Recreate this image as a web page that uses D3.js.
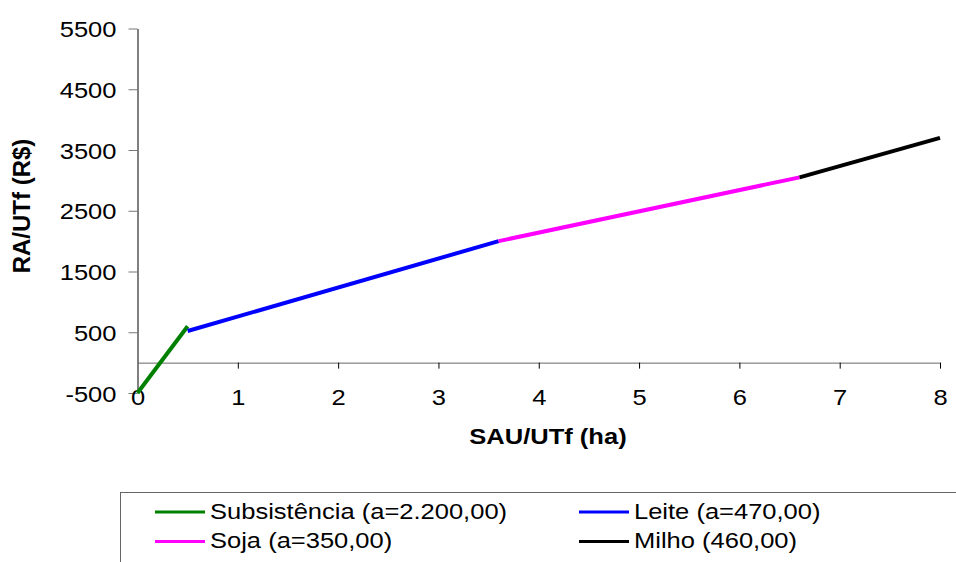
<!DOCTYPE html>
<html lang="pt">
    <head>
        <meta charset="utf-8">
        <script type="text/javascript" src="https://cdn.jsdelivr.net/npm/d3@7/dist/d3.min.js"></script>
        <style type="text/css">
        body{
          margin: 0;
          background: #fff;
          font-family: "Liberation Sans", Arial, sans-serif;
        }
        </style>
    </head>
    <body>
        <script type="text/javascript">
        // Segments: [SAU/UTf, RA/UTf]
        var subsistencia = [[0, -500], [0.5, 600]];
        var leite = [[0.5, 520], [3.6, 2000]];
        var soja = [[3.6, 2000], [6.6, 3050]];
        var milho = [[6.6, 3050], [8, 3700]];

        var seriesNames = ["Subsistência (a=2.200,00)", "Leite (a=470,00)", "Soja (a=350,00)", "Milho (460,00)"];
        var seriesColors = ["#008000", "#0000ff", "#ff00ff", "#000000"];
        var xTicks = [0, 1, 2, 3, 4, 5, 6, 7, 8];
        var yTicks = [-500, 500, 1500, 2500, 3500, 4500, 5500];

        var w = 956;
        var h = 562;
        var plotLeft = 137.5, plotRight = 940, plotTop = 28.5, plotBottom = 393;
        var stretch = 1.16; // the text in the picture is a bit wide

        var svg = d3.select("body")
          .append("svg")
          .attr("width", w)
          .attr("height", h)
          .style("font-family", "Liberation Sans, Arial, sans-serif");

        var xScale = d3.scaleLinear().domain([0, 8]).range([plotLeft, plotRight]);
        var yScale = d3.scaleLinear().domain([-500, 5500]).range([plotBottom, plotTop]);

        // y axis on the left edge
        var yAxis = svg.append("g")
          .attr("transform", "translate(" + plotLeft + ",0)")
          .call(d3.axisLeft(yScale).tickValues(yTicks).tickSize(9).tickSizeOuter(0)
            .tickFormat(function(d){ return String(d); }));
        yAxis.select(".domain").attr("stroke", "#000");
        yAxis.selectAll(".tick line").attr("stroke", "#777");
        yAxis.selectAll(".tick text")
          .attr("x", 0)
          .attr("dy", 0)
          .attr("transform", "translate(-21,8) scale(" + stretch + ",1)")
          .style("font-size", "22px")
          .style("font-family", "Liberation Sans, Arial, sans-serif")
          .attr("fill", "#000");

        // x axis drawn at y = 0
        var xAxis = svg.append("g")
          .attr("transform", "translate(0," + yScale(0) + ")")
          .call(d3.axisBottom(xScale).tickValues(xTicks).tickSize(6).tickSizeOuter(0)
            .tickFormat(function(d){ return String(d); }));
        xAxis.select(".domain").attr("stroke", "#666");
        xAxis.selectAll(".tick line").attr("stroke", "#000");
        xAxis.selectAll(".tick").filter(function(d){ return d === 0; }).select("line").remove();
        xAxis.selectAll(".tick text")
          .attr("y", 0)
          .attr("dy", 0)
          .attr("transform", "translate(0," + (405 - yScale(0)) + ") scale(" + stretch + ",1)")
          .style("font-size", "22px")
          .style("font-family", "Liberation Sans, Arial, sans-serif")
          .attr("fill", "#000");

        // axis titles
        svg.append("text")
          .attr("transform", "translate(548,444) scale(" + stretch + ",1)")
          .attr("text-anchor", "middle")
          .style("font-size", "22px")
          .style("font-weight", "bold")
          .text("SAU/UTf (ha)");

        svg.append("text")
          .attr("transform", "translate(29.5,206) rotate(-90)")
          .attr("text-anchor", "middle")
          .style("font-size", "24px")
          .style("font-weight", "bold")
          .text("RA/UTf (R$)");

        // lines
        var line = d3.line()
          .x(function(d){ return xScale(d[0]); })
          .y(function(d){ return yScale(d[1]); });

        var allSeries = [subsistencia, leite, soja, milho];
        svg.selectAll("path.serie")
          .data(allSeries)
          .enter()
          .append("path")
          .attr("class", "serie")
          .attr("d", line)
          .attr("fill", "none")
          .attr("stroke-width", 4)
          .attr("stroke", function(d, i){ return seriesColors[i]; });

        // legend box (runs off right and bottom edge)
        svg.append("rect")
          .attr("x", 120.5)
          .attr("y", 492.5)
          .attr("width", 900)
          .attr("height", 120)
          .attr("fill", "none")
          .attr("stroke", "#666")
          .attr("stroke-width", 1);

        var legend = svg.selectAll("g.legend")
          .data(seriesNames)
          .enter()
          .append("g")
          .attr("class", "legend")
          .attr("transform", function(d, i){
            return "translate(" + (i % 2 === 0 ? 155 : 579) + "," + (512 + Math.floor(i / 2) * 29.5) + ")";
          });

        legend.append("line")
          .attr("x1", 0)
          .attr("x2", 50)
          .attr("y1", 0)
          .attr("y2", 0)
          .attr("stroke-width", 3)
          .attr("stroke", function(d, i){ return seriesColors[seriesNames.indexOf(d)]; });

        legend.append("text")
          .attr("transform", "translate(55,6.5) scale(" + stretch + ",1)")
          .style("font-size", "22px")
          .text(function(d){ return d; });
        </script>
    </body>
</html>
